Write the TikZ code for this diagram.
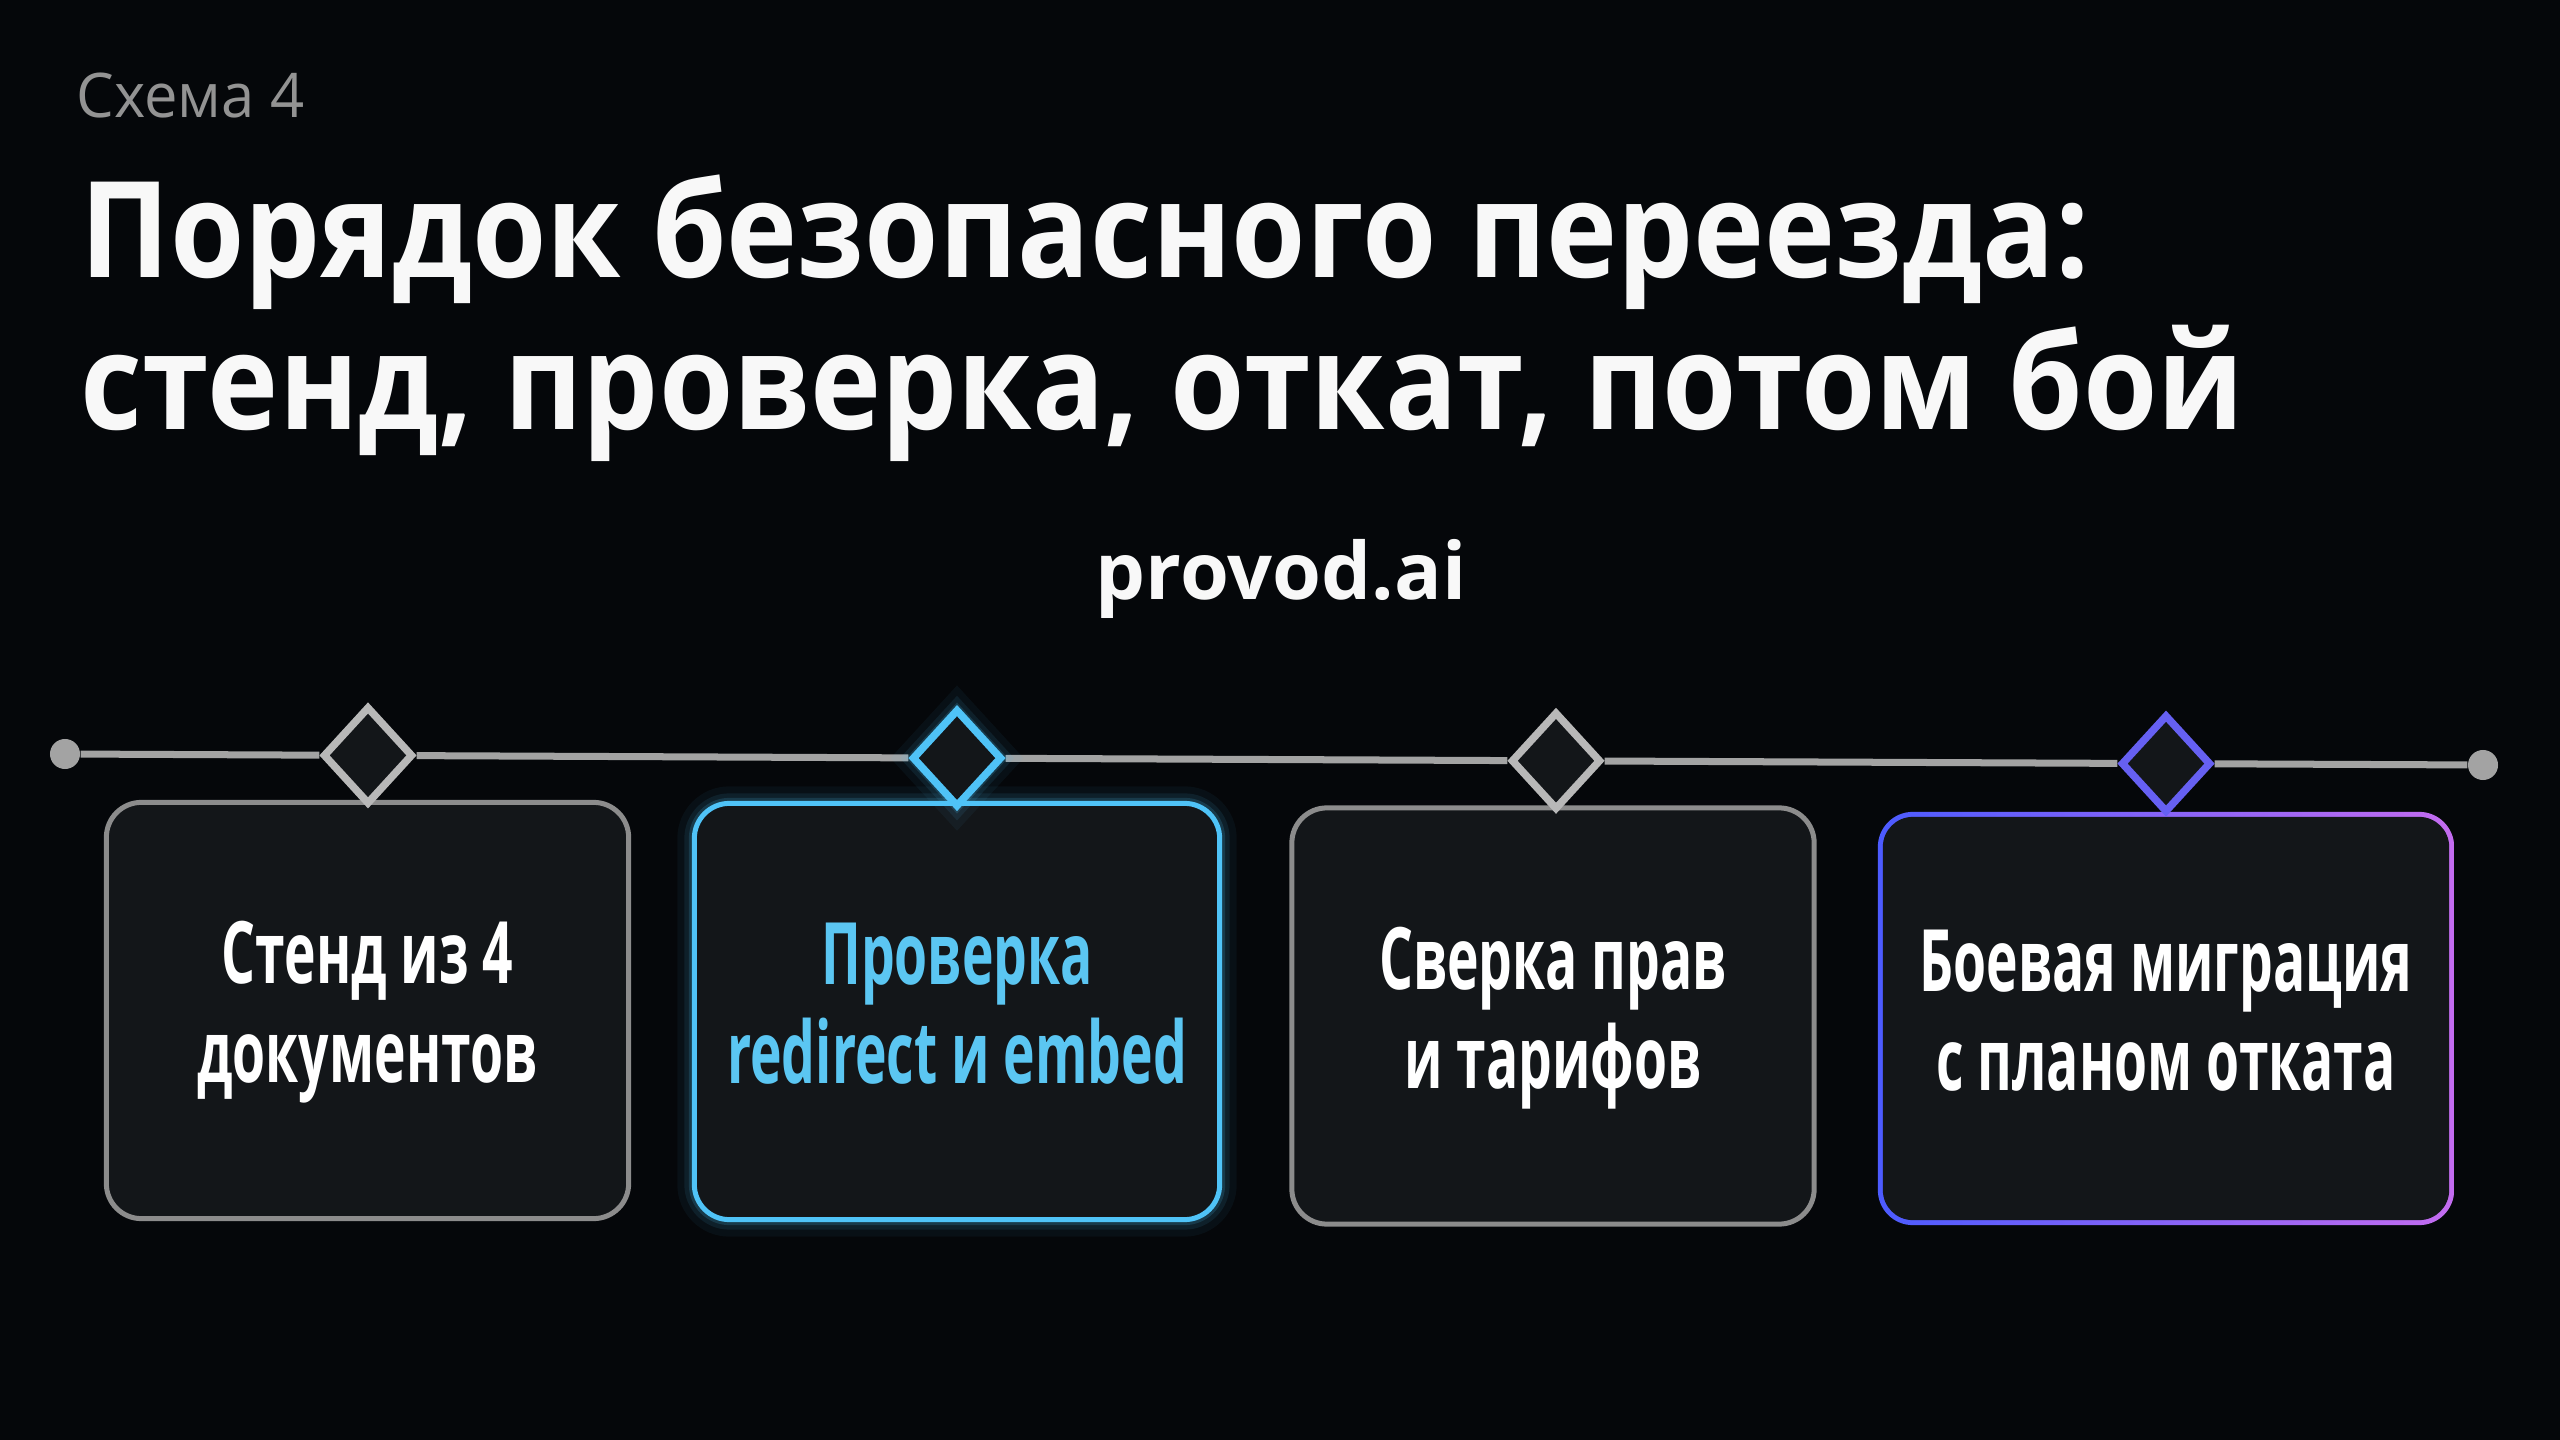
\documentclass[tikz,border=0pt]{standalone}
\usepackage{fontspec}
\setmainfont{Open Sans}
\newfontfamily\titlefont[FakeStretch=0.9]{Open Sans}
\newfontfamily\cardfont[FakeStretch=0.62]{Open Sans}
\newfontfamily\smallfont[FakeStretch=0.97]{Open Sans}
\usetikzlibrary{positioning,shapes.geometric,backgrounds}

\definecolor{bgcol}{HTML}{05070A}
\definecolor{cardfill}{HTML}{131619}
\definecolor{cardgray}{HTML}{8C8C8C}
\definecolor{railgray}{HTML}{A3A3A3}
\definecolor{gemgray}{HTML}{B8B8B8}
\definecolor{cyanline}{HTML}{4FC3F7}
\definecolor{cyantext}{HTML}{5BC6F2}
\definecolor{blueedge}{HTML}{4C5BFF}
\definecolor{violetedge}{HTML}{C46CF0}
\definecolor{gemviolet}{HTML}{6660F2}
\definecolor{subgray}{HTML}{939393}
\definecolor{titlewhite}{HTML}{F8F8F8}

\begin{document}
\begin{tikzpicture}
    [x=0.01cm, y=-0.01cm, every node/.style={inner sep=0pt},
     card/.style={rectangle, rounded corners=0.35cm, fill=cardfill, line width=0.05cm,
       minimum width=5.22cm, minimum height=4.16cm, align=center, text=white, text depth=0.17cm,
       font=\cardfont\bfseries\fontsize{24.5}{28.2}\selectfont},
     gem/.style={diamond, fill=cardfill, line width=0.075cm, minimum width=0.9cm, minimum height=0.98cm},
     dot/.style={circle, fill=railgray, minimum size=0.3cm},
     glow/.style={preaction={draw=#1, line width=0.34cm, draw opacity=0.05},
       preaction={draw=#1, line width=0.2cm, draw opacity=0.09},
       preaction={draw=#1, line width=0.11cm, draw opacity=0.16}},
     rail/.style={draw=railgray, line width=0.07cm}]

  \useasboundingbox (0,0) rectangle (2560,1440);

  % headings
  \node[anchor=base west, text=subgray, font=\smallfont\fontsize{17.5}{21}\selectfont] (scheme) at (76,118) {Схема 4};
  \node[anchor=base west, text=titlewhite, font=\titlefont\bfseries\fontsize{38}{44}\selectfont] (title) at (80,278) {Порядок безопасного переезда:};
  \node[anchor=base west, text=titlewhite, font=\titlefont\bfseries\fontsize{38}{44}\selectfont] (title2) at (80,430) {стенд, проверка, откат, потом бой};
  \node[anchor=base, text=titlewhite, font=\bfseries\fontsize{22.5}{26}\selectfont] (brand) at (1281,600) {provod.ai};

  % cards
  \node[card, draw=cardgray] (c1) at (367.5,1010.5) {Стенд из 4\\документов};
  \node[card, draw=cyanline, glow=cyanline, text=cyantext, minimum width=5.25cm] (c2) at (957,1011.5) {Проверка\\redirect и embed};
  \node[card, draw=cardgray] (c3) at (1553,1016) {Сверка прав\\и тарифов};
  \node[card, minimum width=5.76cm, minimum height=4.13cm, left color=blueedge, right color=violetedge,
    path picture={\fill[cardfill, rounded corners=0.3cm]
      ([shift={(0.05cm,-0.05cm)}]path picture bounding box.north west) rectangle
      ([shift={(-0.05cm,0.05cm)}]path picture bounding box.south east);}] (c4) at (2166,1018.5) {Боевая миграция\\с планом отката};

  % timeline
  \node[dot] (p0) at (65,754) {};
  \node[dot] (p5) at (2483,765) {};
  \node[gem, draw=gemgray] (d1) at (368,755.4) {};
  \node[gem, draw=cyanline, glow=cyanline] (d2) at (957,758.1) {};
  \node[gem, draw=gemgray] (d3) at (1556,760.8) {};
  \node[gem, draw=gemviolet] (d4) at (2166,763.6) {};

  \begin{pgfonlayer}{background}
    \fill[bgcol] (0,0) rectangle (2560,1440);
    \draw[rail] (p0) -- (d1) -- (d2) -- (d3) -- (d4) -- (p5);
  \end{pgfonlayer}
\end{tikzpicture}
\end{document}
